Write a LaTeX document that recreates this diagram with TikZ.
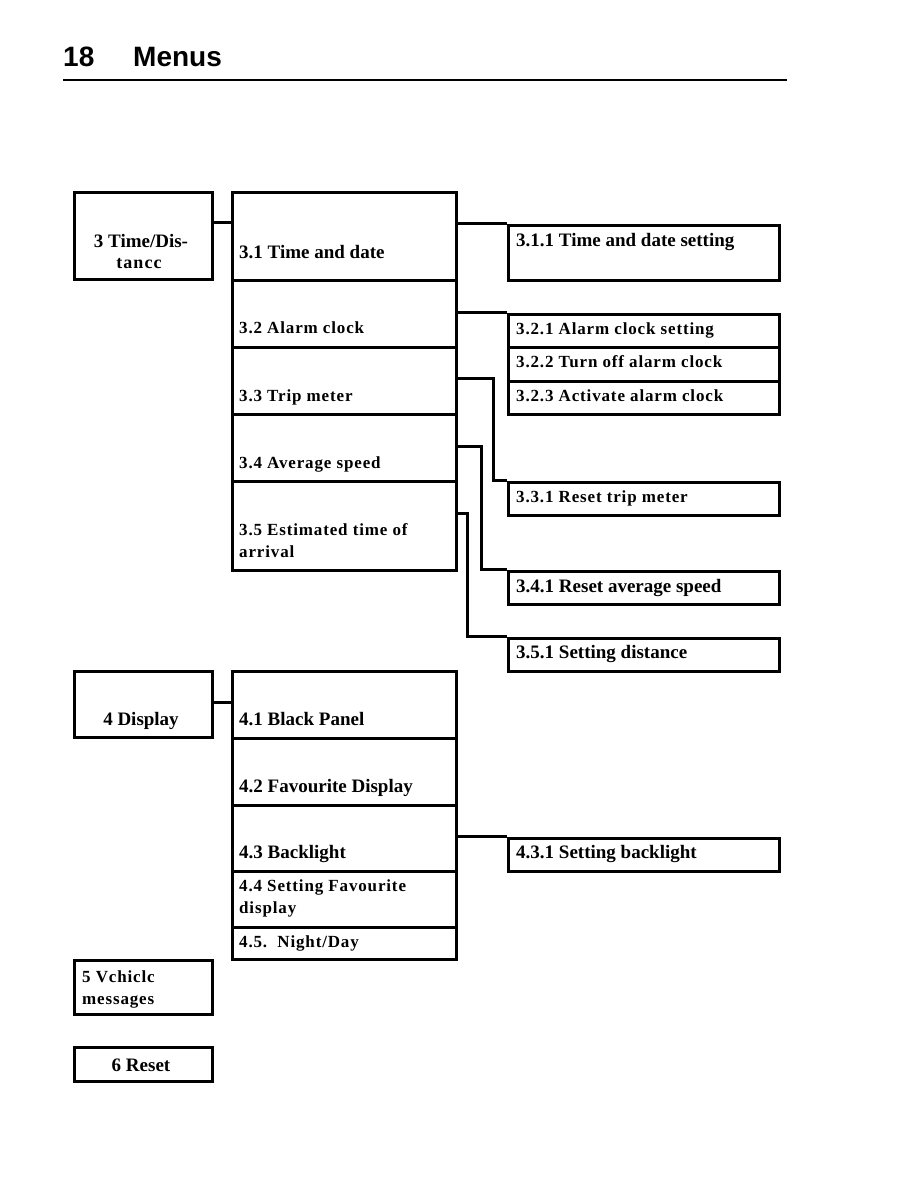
\documentclass[tikz,border=0pt]{standalone}
\usepackage{fontspec}
\setmainfont{Liberation Serif}
\newfontfamily\hdfont{Liberation Sans}
\begin{document}
\begin{tikzpicture}[x=1pt,y=-1pt,
  box/.style={draw=black,line width=3pt,anchor=north west,inner sep=0pt,minimum width=#1},
  conn/.style={draw=black,line width=3.2pt},
  big/.style={anchor=base west,inner sep=0pt,font=\bfseries\fontsize{19}{21}\selectfont},
  sml/.style={anchor=base west,inner sep=0pt,font=\bfseries\fontsize{17}{20}\selectfont\addfontfeatures{LetterSpace=5}},
  ctr/.style={anchor=base,inner sep=0pt,font=\bfseries\fontsize{19}{21}\selectfont}]
\useasboundingbox (0,0) rectangle (918,1188);
% header
\node[anchor=base west,inner sep=0pt,font=\hdfont\bfseries\fontsize{28}{30}\selectfont] (hnum) at (63,67) {18};
\node[anchor=base west,inner sep=0pt,font=\hdfont\bfseries\fontsize{28}{30}\selectfont] (htit) at (133,67) {Menus};
\coordinate (rl) at (63,80);
\coordinate (rr) at (787,80);
\draw[line width=2.2pt] (rl) -- (rr);
% left column
\node[box=138pt,minimum height=87pt] (b3) at (72.5,190.5) {};
\node[box=138pt,minimum height=66pt] (b4) at (72.5,669.5) {};
\node[box=138pt,minimum height=54pt] (b5) at (72.5,958.5) {};
\node[box=138pt,minimum height=34pt] (b6) at (72.5,1045.5) {};
\node[ctr] (t3a) at (141,247) {3 Time/Dis-};
\node[ctr,font=\bfseries\fontsize{18}{20}\selectfont\addfontfeatures{LetterSpace=6}] (t3b) at (139,268) {tancc};
\node[ctr] (t4) at (141,725) {4 Display};
\node[sml] (t5a) at (82,982) {5 Vchiclc};
\node[sml] (t5b) at (82,1004) {messages};
\node[ctr] (t6) at (141,1071) {6 Reset};
% middle column
\node[box=224pt,minimum height=88pt] (b31) at (230.5,190.5) {};
\node[box=224pt,minimum height=67pt] (b32) at (230.5,278.5) {};
\node[box=224pt,minimum height=67pt] (b33) at (230.5,345.5) {};
\node[box=224pt,minimum height=67pt] (b34) at (230.5,412.5) {};
\node[box=224pt,minimum height=89pt] (b35) at (230.5,479.5) {};
\node[big] (t31) at (239,258) {3.1 Time and date};
\node[sml] (t32) at (239,333) {3.2 Alarm clock};
\node[sml] (t33) at (239,401) {3.3 Trip meter};
\node[sml] (t34) at (239,468) {3.4 Average speed};
\node[sml] (t35a) at (239,535) {3.5 Estimated time of};
\node[sml] (t35b) at (239,557) {arrival};
\node[box=224pt,minimum height=67pt] (b41) at (230.5,669.5) {};
\node[box=224pt,minimum height=67pt] (b42) at (230.5,736.5) {};
\node[box=224pt,minimum height=66pt] (b43) at (230.5,803.5) {};
\node[box=224pt,minimum height=56pt] (b44) at (230.5,869.5) {};
\node[box=224pt,minimum height=32pt] (b45) at (230.5,925.5) {};
\node[big] (t41) at (239,725) {4.1 Black Panel};
\node[big] (t42) at (239,792) {4.2 Favourite Display};
\node[big] (t43) at (239,858) {4.3 Backlight};
\node[sml] (t44a) at (239,891) {4.4 Setting Favourite};
\node[sml] (t44b) at (239,913) {display};
\node[sml] (t45) at (239,947) {4.5.\ \ Night/Day};
% right column
\node[box=271pt,minimum height=55pt] (b311) at (506.5,223.5) {};
\node[box=271pt,minimum height=33pt] (b321) at (506.5,312.5) {};
\node[box=271pt,minimum height=34pt] (b322) at (506.5,345.5) {};
\node[box=271pt,minimum height=33pt] (b323) at (506.5,379.5) {};
\node[box=271pt,minimum height=33pt] (b331) at (506.5,480.5) {};
\node[box=271pt,minimum height=33pt] (b341) at (506.5,569.5) {};
\node[box=271pt,minimum height=33pt] (b351) at (506.5,636.5) {};
\node[box=271pt,minimum height=33pt] (b431) at (506.5,836.5) {};
\node[big] (t311) at (516,246) {3.1.1 Time and date setting};
\node[sml] (t321) at (516,334) {3.2.1 Alarm clock setting};
\node[sml] (t322) at (516,367) {3.2.2 Turn off alarm clock};
\node[sml] (t323) at (516,401) {3.2.3 Activate alarm clock};
\node[sml] (t331) at (516,502) {3.3.1 Reset trip meter};
\node[big] (t341) at (516,592) {3.4.1 Reset average speed};
\node[big] (t351) at (516,658) {3.5.1 Setting distance};
\node[big] (t431) at (516,858) {4.3.1 Setting backlight};
% connectors
\coordinate (c3) at (220,222.5);
\coordinate (c4) at (220,702.5);
\coordinate (c33) at (493.5,378.5);
\coordinate (c34) at (481.5,446.5);
\coordinate (c35) at (467.5,513.5);
\draw[conn] (b3.east |- c3) -- (b31.west |- c3);
\draw[conn] (b4.east |- c4) -- (b41.west |- c4);
\draw[conn] (b31.east |- b311.north) -- (b311.north west);
\draw[conn] (b32.east |- b321.north) -- (b321.north west);
\draw[conn] (b33.east |- c33) -- (c33) |- (b331.north west);
\draw[conn] (b34.east |- c34) -- (c34) |- (b341.north west);
\draw[conn] (b35.east |- c35) -- (c35) |- (b351.north west);
\draw[conn] (b43.east |- b431.north) -- (b431.north west);
\end{tikzpicture}
\end{document}
